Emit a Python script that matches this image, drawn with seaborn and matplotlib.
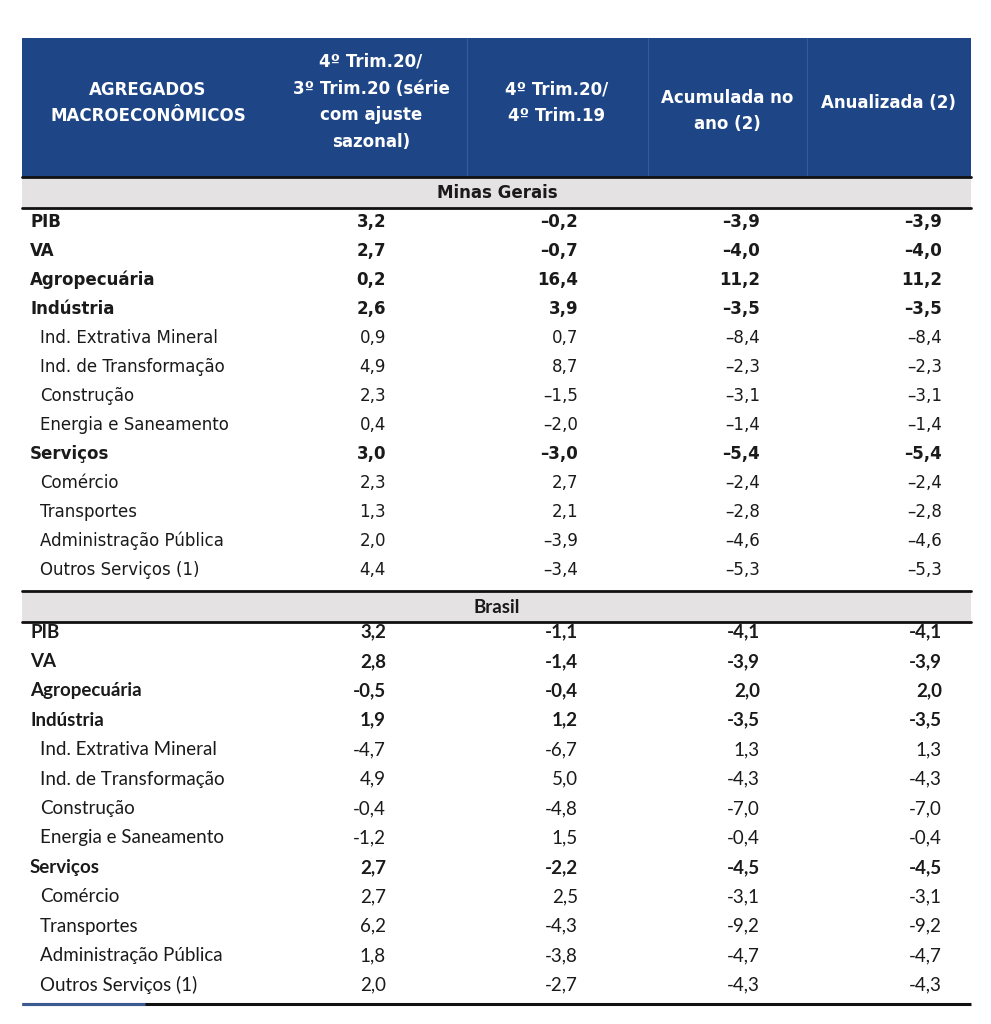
import numpy as np
import pandas as pd
import matplotlib
matplotlib.use('Agg')
import matplotlib.pyplot as plt
import seaborn as sns

# ------------------ DATA ------------------
labels = ["PIB", "VA", "Agropecuária", "Indústria", "Ind. Extrativa Mineral",
          "Ind. de Transformação", "Construção", "Energia e Saneamento",
          "Serviços", "Comércio", "Transportes", "Administração Pública",
          "Outros Serviços (1)"]
is_total = [True, True, True, True, False, False, False, False,
            True, False, False, False, False]

headers = ["AGREGADOS\nMACROECONÔMICOS",
           "4º Trim.20/\n3º Trim.20 (série\ncom ajuste\nsazonal)",
           "4º Trim.20/\n4º Trim.19",
           "Acumulada no\nano (2)",
           "Anualizada (2)"]

mg_qoq = [3.2, 2.7, 0.2, 2.6, 0.9, 4.9, 2.3, 0.4, 3.0, 2.3, 1.3, 2.0, 4.4]
mg_yoy = [-0.2, -0.7, 16.4, 3.9, 0.7, 8.7, -1.5, -2.0, -3.0, 2.7, 2.1, -3.9, -3.4]
mg_acum = [-3.9, -4.0, 11.2, -3.5, -8.4, -2.3, -3.1, -1.4, -5.4, -2.4, -2.8, -4.6, -5.3]
mg_anual = [-3.9, -4.0, 11.2, -3.5, -8.4, -2.3, -3.1, -1.4, -5.4, -2.4, -2.8, -4.6, -5.3]

br_qoq = [3.2, 2.8, -0.5, 1.9, -4.7, 4.9, -0.4, -1.2, 2.7, 2.7, 6.2, 1.8, 2.0]
br_yoy = [-1.1, -1.4, -0.4, 1.2, -6.7, 5.0, -4.8, 1.5, -2.2, 2.5, -4.3, -3.8, -2.7]
br_acum = [-4.1, -3.9, 2.0, -3.5, 1.3, -4.3, -7.0, -0.4, -4.5, -3.1, -9.2, -4.7, -4.3]
br_anual = [-4.1, -3.9, 2.0, -3.5, 1.3, -4.3, -7.0, -0.4, -4.5, -3.1, -9.2, -4.7, -4.3]

mg = pd.DataFrame({"label": labels, "total": is_total, "qoq": mg_qoq,
                   "yoy": mg_yoy, "acum": mg_acum, "anual": mg_anual})
br = pd.DataFrame({"label": labels, "total": is_total, "qoq": br_qoq,
                   "yoy": br_yoy, "acum": br_acum, "anual": br_anual})

# ------------------ STYLE ------------------
sns.set_theme(style="white")
plt.rcParams['font.family'] = ['DejaVu Sans']

BLUE = "#1e4586"
SEP = "#3a5b96"
GRAY = "#e4e2e3"
INK = "#1a1a1a"

fig = plt.figure(figsize=(9.91, 10.24), dpi=100)
ax = fig.add_axes([0, 0, 1, 1])
ax.set_xlim(0, 991)
ax.set_ylim(1024, 0)
ax.axis("off")

x0, x1 = 22, 971
# header block
ax.fill_between([x0, x1], 38, 177, color=BLUE, lw=0)
for xs in [467, 648, 807]:
    ax.plot([xs, xs], [38, 177], color=SEP, lw=0.8)
head_x = [148, 371, 557, 727, 888]
head_y = [103, 102, 103, 111, 103]
for h, hx, hy in zip(headers, head_x, head_y):
    ax.text(hx, hy, h, color="white", fontsize=12, fontweight="bold",
            ha="center", va="center", linespacing=1.62)

num_x = [386, 578, 760, 942]
cols = ["qoq", "yoy", "acum", "anual"]


def draw_section(df, title, band_top, band_bot, y_first, y_last, family, size, minus):
    ax.fill_between([x0, x1], band_top, band_bot, color=GRAY, lw=0)
    ax.plot([x0, x1], [band_top, band_top], color="#111111", lw=2)
    ax.plot([x0, x1], [band_bot, band_bot], color="#111111", lw=2)
    ax.text(497, (band_top + band_bot) / 2 + 1, title, color=INK, fontsize=size,
            fontweight="bold", ha="center", va="center", family=family)
    ys = np.linspace(y_first, y_last, len(df))
    for y, (_, row) in zip(ys, df.iterrows()):
        w = "bold" if row["total"] else "normal"
        lx = 30 if row["total"] else 40
        ax.text(lx, y, row["label"], color=INK, fontsize=size, fontweight=w,
                ha="left", va="center", family=family)
        for c, nx in zip(cols, num_x):
            s = f"{abs(row[c]):.1f}".replace(".", ",")
            if row[c] < 0:
                s = minus + s
            ax.text(nx, y, s, color=INK, fontsize=size, fontweight=w,
                    ha="right", va="center", family=family)


draw_section(mg, "Minas Gerais", 177, 208, 222, 570, ['DejaVu Sans'], 12, "–")
draw_section(br, "Brasil", 591, 622, 632, 985, ['Lato', 'DejaVu Sans'], 13.5, "-")

# bottom rule
ax.plot([x0, x1], [1004, 1004], color="#111111", lw=2.2, solid_capstyle="butt")
ax.plot([x0, 145], [1004, 1004], color="#3b5a8f", lw=2.2, solid_capstyle="butt")

fig.savefig("out.png", dpi=100, facecolor="white")
